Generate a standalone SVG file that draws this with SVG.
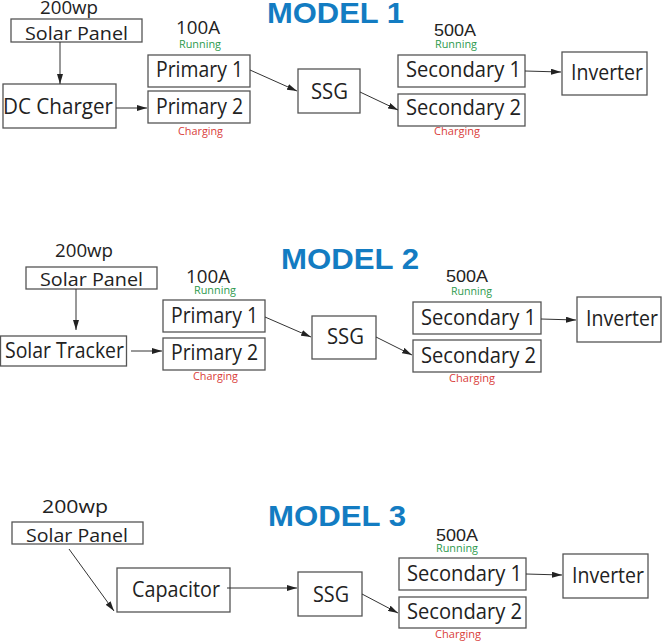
<svg xmlns="http://www.w3.org/2000/svg" width="663" height="642" viewBox="0 0 663 642">
<defs>
<marker id="ah" viewBox="0 0 10 6" refX="10" refY="3" markerWidth="10" markerHeight="6" markerUnits="userSpaceOnUse" orient="auto">
<path d="M0,0 L10,3 L0,6 z" fill="#222"/>
</marker>
</defs>
<style>
.box{fill:#fff;stroke:#555;stroke-width:1.3}
.t{font-family:"Open Sans","Liberation Sans",sans-serif;font-size:21px;fill:#222;text-anchor:middle}
.s{font-family:"Open Sans","Liberation Sans",sans-serif;font-size:18px;fill:#222;text-anchor:middle}
.a{font-family:"Liberation Sans",Arial,sans-serif;font-size:17px;fill:#222;text-anchor:middle}
.run{font-family:"Open Sans","Liberation Sans",sans-serif;font-size:11px;fill:#2e9a4e;text-anchor:middle}
.chg{font-family:"Open Sans","Liberation Sans",sans-serif;font-size:11px;fill:#d9403a;text-anchor:middle}
.title{font-family:"Liberation Sans",Arial,sans-serif;font-size:30px;font-weight:bold;fill:#137cc2;text-anchor:middle}
.c{fill:none;stroke:#333;stroke-width:1;marker-end:url(#ah)}
</style>
<rect width="663" height="642" fill="#fff"/>

<!-- MODEL 1 -->
<text class="title" x="335.5" y="23" textLength="137" lengthAdjust="spacingAndGlyphs">MODEL 1</text>
<g id="m1-solar">
<text class="s" x="69" y="14" textLength="58" lengthAdjust="spacingAndGlyphs">200wp</text>
<rect class="box" x="11" y="19" width="131" height="23"/>
<text class="s" x="76.5" y="40" textLength="103" lengthAdjust="spacingAndGlyphs">Solar Panel</text>
</g>
<g id="m1-dc">
<rect class="box" x="3" y="84" width="113" height="44"/>
<text class="t" x="58" y="114" textLength="110" lengthAdjust="spacingAndGlyphs">DC Charger</text>
</g>
<g id="m1-p1">
<text class="s" x="198" y="34" textLength="44" lengthAdjust="spacingAndGlyphs">100A</text>
<text class="run" x="200" y="48" textLength="42" lengthAdjust="spacingAndGlyphs">Running</text>
<rect class="box" x="148" y="55" width="102" height="32"/>
<text class="t" x="199.5" y="77" textLength="87" lengthAdjust="spacingAndGlyphs">Primary 1</text>
</g>
<g id="m1-p2">
<rect class="box" x="148" y="91" width="102" height="32"/>
<text class="t" x="199.5" y="114" textLength="87" lengthAdjust="spacingAndGlyphs">Primary 2</text>
<text class="chg" x="200.5" y="135" textLength="45" lengthAdjust="spacingAndGlyphs">Charging</text>
</g>
<g id="m1-ssg">
<rect class="box" x="298" y="69" width="62" height="44"/>
<text class="t" x="329.5" y="99" textLength="37" lengthAdjust="spacingAndGlyphs">SSG</text>
</g>
<g id="m1-s1">
<text class="a" x="455" y="36" textLength="42" lengthAdjust="spacingAndGlyphs">500A</text>
<text class="run" x="456" y="48" textLength="42" lengthAdjust="spacingAndGlyphs">Running</text>
<rect class="box" x="398" y="55" width="127" height="32"/>
<text class="t" x="463.5" y="77" textLength="115" lengthAdjust="spacingAndGlyphs">Secondary 1</text>
</g>
<g id="m1-s2">
<rect class="box" x="398" y="94" width="127" height="32"/>
<text class="t" x="463.5" y="115" textLength="115" lengthAdjust="spacingAndGlyphs">Secondary 2</text>
<text class="chg" x="457" y="135" textLength="46" lengthAdjust="spacingAndGlyphs">Charging</text>
</g>
<g id="m1-inv">
<rect class="box" x="562" y="52" width="85" height="43"/>
<text class="t" x="607" y="80" textLength="72" lengthAdjust="spacingAndGlyphs">Inverter</text>
</g>

<!-- MODEL 2 -->
<text class="title" x="350" y="269" textLength="138" lengthAdjust="spacingAndGlyphs">MODEL 2</text>
<g id="m2-solar">
<text class="s" x="84" y="257" textLength="58" lengthAdjust="spacingAndGlyphs">200wp</text>
<rect class="box" x="26" y="267" width="131" height="22"/>
<text class="s" x="91.5" y="286" textLength="103" lengthAdjust="spacingAndGlyphs">Solar Panel</text>
</g>
<g id="m2-tracker">
<rect class="box" x="0.5" y="336" width="126" height="30"/>
<text class="t" x="64.5" y="358" textLength="119" lengthAdjust="spacingAndGlyphs">Solar Tracker</text>
</g>
<g id="m2-p1">
<text class="s" x="208" y="283" textLength="44" lengthAdjust="spacingAndGlyphs">100A</text>
<text class="run" x="215" y="294" textLength="42" lengthAdjust="spacingAndGlyphs">Running</text>
<rect class="box" x="163" y="300" width="102" height="32"/>
<text class="t" x="214.5" y="323" textLength="87" lengthAdjust="spacingAndGlyphs">Primary 1</text>
</g>
<g id="m2-p2">
<rect class="box" x="163" y="338" width="102" height="32"/>
<text class="t" x="214.5" y="360" textLength="87" lengthAdjust="spacingAndGlyphs">Primary 2</text>
<text class="chg" x="215.5" y="380" textLength="45" lengthAdjust="spacingAndGlyphs">Charging</text>
</g>
<g id="m2-ssg">
<rect class="box" x="312" y="316" width="64" height="43"/>
<text class="t" x="345.5" y="344" textLength="37" lengthAdjust="spacingAndGlyphs">SSG</text>
</g>
<g id="m2-s1">
<text class="a" x="467" y="282" textLength="42" lengthAdjust="spacingAndGlyphs">500A</text>
<text class="run" x="471.5" y="295" textLength="41" lengthAdjust="spacingAndGlyphs">Running</text>
<rect class="box" x="413" y="302" width="128" height="32"/>
<text class="t" x="478.5" y="325" textLength="115" lengthAdjust="spacingAndGlyphs">Secondary 1</text>
</g>
<g id="m2-s2">
<rect class="box" x="413" y="340" width="128" height="32"/>
<text class="t" x="478.5" y="363" textLength="115" lengthAdjust="spacingAndGlyphs">Secondary 2</text>
<text class="chg" x="472" y="382" textLength="46" lengthAdjust="spacingAndGlyphs">Charging</text>
</g>
<g id="m2-inv">
<rect class="box" x="577" y="297" width="84" height="45"/>
<text class="t" x="622" y="326" textLength="72" lengthAdjust="spacingAndGlyphs">Inverter</text>
</g>

<!-- MODEL 3 -->
<text class="title" x="337" y="526" textLength="138" lengthAdjust="spacingAndGlyphs">MODEL 3</text>
<g id="m3-solar">
<text class="s" x="75" y="513" font-size="20" textLength="66" lengthAdjust="spacingAndGlyphs">200wp</text>
<rect class="box" x="12" y="522" width="131" height="22"/>
<text class="s" x="77" y="542" textLength="102" lengthAdjust="spacingAndGlyphs">Solar Panel</text>
</g>
<g id="m3-cap">
<rect class="box" x="117" y="568" width="113" height="44"/>
<text class="t" x="176" y="597" textLength="88" lengthAdjust="spacingAndGlyphs">Capacitor</text>
</g>
<g id="m3-ssg">
<rect class="box" x="298" y="572" width="64" height="44"/>
<text class="t" x="331" y="602" textLength="36" lengthAdjust="spacingAndGlyphs">SSG</text>
</g>
<g id="m3-s1">
<text class="a" x="457" y="541" textLength="42" lengthAdjust="spacingAndGlyphs">500A</text>
<text class="run" x="457" y="552" textLength="42" lengthAdjust="spacingAndGlyphs">Running</text>
<rect class="box" x="399" y="558" width="127" height="32"/>
<text class="t" x="464.5" y="581" textLength="115" lengthAdjust="spacingAndGlyphs">Secondary 1</text>
</g>
<g id="m3-s2">
<rect class="box" x="399" y="597" width="127" height="31"/>
<text class="t" x="464.5" y="619" textLength="115" lengthAdjust="spacingAndGlyphs">Secondary 2</text>
<text class="chg" x="458" y="638" textLength="46" lengthAdjust="spacingAndGlyphs">Charging</text>
</g>
<g id="m3-inv">
<rect class="box" x="563" y="554" width="85" height="44"/>
<text class="t" x="608" y="583" textLength="72" lengthAdjust="spacingAndGlyphs">Inverter</text>
</g>

<g id="connectors">
<line class="c" x1="60" y1="42" x2="60" y2="84"/>
<line class="c" x1="116" y1="108" x2="147" y2="108"/>
<line class="c" x1="250" y1="70" x2="297" y2="91"/>
<line class="c" x1="360" y1="92" x2="398" y2="110"/>
<line class="c" x1="525" y1="71" x2="561" y2="72"/>

<line class="c" x1="76" y1="289" x2="76" y2="330"/>
<line class="c" x1="131" y1="351" x2="162" y2="351"/>
<line class="c" x1="265" y1="317" x2="311" y2="337"/>
<line class="c" x1="376" y1="337" x2="412" y2="355"/>
<line class="c" x1="541" y1="319" x2="576" y2="320"/>

<line class="c" x1="69" y1="549" x2="114" y2="611"/>
<line class="c" x1="227" y1="588" x2="297" y2="588"/>
<line class="c" x1="362" y1="594" x2="398" y2="613"/>
<line class="c" x1="526" y1="574" x2="562" y2="575"/>
</g>
</svg>
